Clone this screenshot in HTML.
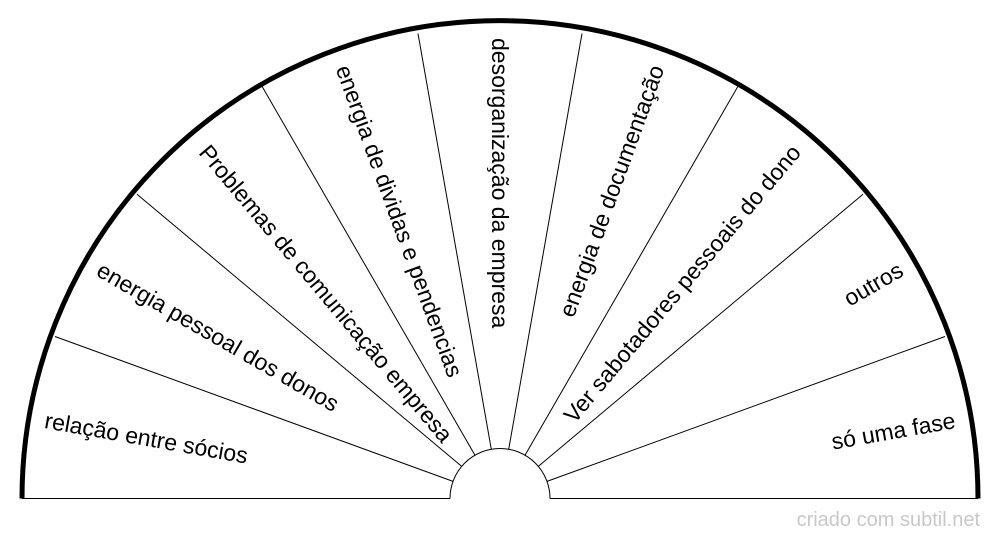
<!DOCTYPE html>
<html><head><meta charset="utf-8"><style>
html,body{margin:0;padding:0;background:#fff;}
svg{display:block;}
text{font-family:"Liberation Sans",sans-serif;}
</style></head><body>
<svg width="1000" height="540" viewBox="0 0 1000 540" xmlns="http://www.w3.org/2000/svg">
<g stroke="#000" stroke-width="1" fill="none">
<line x1="22" y1="498.5" x2="450" y2="498.5"/>
<line x1="550" y1="498.5" x2="978" y2="498.5"/>
<path d="M450 498.5 A50 50 0 0 1 550 498.5"/>
<line x1="453.0" y1="481.4" x2="55.0" y2="336.5"/>
<line x1="461.7" y1="466.4" x2="137.0" y2="194.2"/>
<line x1="475.0" y1="455.2" x2="262.0" y2="86.3"/>
<line x1="491.3" y1="449.3" x2="418.0" y2="33.6"/>
<line x1="508.7" y1="449.3" x2="582.0" y2="33.6"/>
<line x1="525.0" y1="455.2" x2="738.0" y2="86.3"/>
<line x1="538.3" y1="466.4" x2="863.0" y2="194.2"/>
<line x1="547.0" y1="481.4" x2="945.0" y2="336.5"/>
</g>
<path d="M22 498.5 A478 478 0 0 1 978 498.5" stroke="#000" stroke-width="5" fill="none"/>
<g font-size="23" fill="#000" dominant-baseline="central">
<text x="45" y="420" transform="rotate(10 45 420)">relação entre sócios</text>
<text x="99" y="268" transform="rotate(30 99 268)">energia pessoal dos donos</text>
<text x="204" y="148" transform="rotate(50 204 148)">Problemas de comunicação empresa</text>
<text x="343" y="66" transform="rotate(70 343 66)">energia de dividas e pendencias</text>
<text x="500" y="38" transform="rotate(90 500 38)">desorganização da empresa</text>
<text x="657" y="66" text-anchor="end" transform="rotate(-70 657 66)">energia de documentação</text>
<text x="796" y="148" text-anchor="end" transform="rotate(-50 796 148)">Ver sabotadores pessoais do dono</text>
<text x="901" y="268" text-anchor="end" transform="rotate(-30 901 268)">outros</text>
<text x="955" y="420" text-anchor="end" transform="rotate(-10 955 420)">só uma fase</text>
</g>
<text x="980" y="526" font-size="20" fill="#c8c8c8" text-anchor="end">criado com subtil.net</text>
</svg>
</body></html>
